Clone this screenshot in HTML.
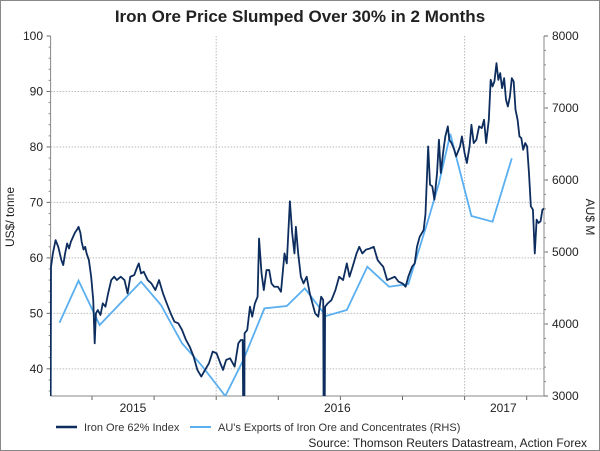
<!DOCTYPE html>
<html><head><meta charset="utf-8"><style>
body{margin:0;background:#fff}
svg{display:block;font-family:"Liberation Sans",sans-serif}
</style></head><body>
<svg id="c" width="600" height="451" viewBox="0 0 600 451">
<rect x="0.5" y="0.5" width="599" height="450" fill="#fff" stroke="#888"/>
<text x="300" y="22" text-anchor="middle" font-size="17" font-weight="bold" fill="#222">Iron Ore Price Slumped Over 30% in 2 Months</text>
<g id="grid"></g>
<g id="axes"></g>
<g id="series"></g>
<text transform="translate(14,217) rotate(-90)" text-anchor="middle" font-size="12" fill="#222">US$/ tonne</text>
<text transform="translate(586,217) rotate(90)" text-anchor="middle" font-size="12" fill="#222">AU$ M</text>
<line x1="56" y1="427" x2="77" y2="427" stroke="#0d2d5e" stroke-width="2.5"/>
<text x="84" y="431" font-size="11" fill="#333">Iron Ore 62% Index</text>
<line x1="190" y1="427" x2="211" y2="427" stroke="#5aaff0" stroke-width="2"/>
<text x="218" y="431" font-size="11" fill="#333">AU's Exports of Iron Ore and Concentrates (RHS)</text>
<text x="587" y="447" text-anchor="end" font-size="12" fill="#222">Source: Thomson Reuters Datastream, Action Forex</text>
</svg>
<script>
const ironMonths=[0,0.02,0.11,0.24,0.37,0.52,0.61,0.70,0.80,0.89,0.98,1.17,1.26,1.35,1.44,1.50,1.59,1.67,1.74,1.85,1.96,2.06,2.13,2.19,2.28,2.41,2.52,2.65,2.78,2.93,3.07,3.20,3.39,3.57,3.72,3.85,4.04,4.19,4.26,4.37,4.50,4.69,4.87,5.06,5.24,5.43,5.61,5.80,5.98,6.17,6.35,6.54,6.72,6.91,7.09,7.28,7.46,7.65,7.83,8.02,8.20,8.33,8.48,8.67,8.89,9.07,9.19,9.28,9.31,9.33,9.36,9.37,9.50,9.63,9.74,9.87,10.0,10.07,10.19,10.30,10.43,10.56,10.67,10.80,10.98,11.13,11.30,11.41,11.56,11.67,11.78,11.85,11.96,12.09,12.22,12.37,12.52,12.65,12.78,12.93,13.07,13.17,13.19,13.21,13.24,13.26,13.39,13.57,13.76,13.94,14.13,14.31,14.44,14.59,14.78,14.91,15.06,15.24,15.43,15.61,15.80,15.93,16.07,16.26,16.44,16.63,16.81,17.0,17.15,17.28,17.46,17.59,17.70,17.83,18.02,18.11,18.24,18.33,18.44,18.54,18.67,18.76,18.85,18.98,19.07,19.19,19.26,19.37,19.50,19.59,19.78,19.87,20.0,20.11,20.24,20.33,20.44,20.57,20.70,20.83,20.94,21.04,21.17,21.26,21.35,21.44,21.54,21.63,21.72,21.81,21.91,22.0,22.09,22.19,22.28,22.37,22.46,22.56,22.65,22.74,22.83,22.93,23.02,23.11,23.20,23.30,23.39,23.48,23.57,23.67,23.76,23.85];
const ironValues=[30,58.4,60.8,63.2,62.0,59.6,58.7,60.8,62.6,61.7,62.9,64.5,65.0,65.6,64.5,62.9,61.5,62.0,60.8,59.6,56.6,52.4,44.6,50.0,50.6,49.7,51.8,51.2,53.6,56.0,56.6,56.0,56.6,56.0,53.6,56.6,56.9,58.4,59.0,57.2,57.5,56.0,55.4,54.2,56.0,53.6,51.8,50.0,48.5,48.2,47.0,45.2,44.0,42.2,39.8,38.6,39.8,41.0,43.1,42.8,41.0,39.8,41.6,41.9,40.4,44.6,45.2,45.2,30,30,30,46.4,47.0,51.2,49.4,51.8,53.0,63.5,57.2,54.2,57.8,57.8,55.4,54.8,54.8,53.9,60.8,59.0,70.2,64.5,60.8,65.6,60.8,56.6,55.4,56.6,53.6,51.8,50.0,49.4,53.0,52.4,30,30,30,51.2,51.8,52.4,54.2,56.6,56.0,59.0,56.6,58.4,60.8,62.0,60.8,61.5,61.7,62.0,59.6,59.0,58.4,56.0,56.3,56.6,55.7,55.4,54.8,56.6,58.4,59.0,62.0,63.8,65.0,67.9,80.1,73.2,72.9,70.5,75.3,81.3,75.3,79.5,81.9,83.7,81.3,80.7,79.5,78.3,80.1,81.9,78.9,77.1,80.1,84.0,80.7,81.3,83.7,83.4,84.9,80.7,84.9,92.1,90.9,91.8,95.1,92.1,93.3,90.6,92.4,88.5,87.3,89.1,92.4,91.8,86.7,84.9,81.9,81.6,79.5,80.7,80.1,75.3,69.3,68.7,60.8,66.9,66.3,66.6,68.7,68.9];
const exportMonths=[0.43,1.35,2.37,4.37,5.33,6.35,7.28,8.44,9.31,10.33,11.41,12.28,13.30,14.31,15.30,16.35,17.28,18.24,18.76,19.31,20.33,21.35,22.28];
const exportValues=[4018,4602,3986,4588,4264,3731,3430,3000,3500,4217,4250,4495,4111,4194,4796,4518,4555,5444,5954,6639,5500,5421,6301];
const leftTicks=[40,50,60,70,80,90,100];
const rightTicks=[3000,4000,5000,6000,7000,8000];
const quarterTicks=[2,5,8,11,14,17,20,23];
const yearLabels=["2015","2016","2017"];
const yearLabelMonths=[3.98,13.85,21.87];
const yearGridMonths=[8,20];

const NS="http://www.w3.org/2000/svg";
const L=50.6,R=544,T=36,B=396;
const xS=m=>L+m*20.7;
const yL=v=>B-(v-35.1)/(100-35.1)*(B-T);
const yR=v=>B-(v-3000)/5000*(B-T);
function mk(tag,attrs,parent,txt){const e=document.createElementNS(NS,tag);for(const k in attrs)e.setAttribute(k,attrs[k]);if(txt!==undefined)e.textContent=txt;document.getElementById(parent).appendChild(e);return e;}
// defs clip
const defs=document.createElementNS(NS,'defs');
defs.innerHTML='<clipPath id="pc"><rect x="50" y="36" width="494" height="360"/></clipPath>';
document.getElementById('c').appendChild(defs);
leftTicks.forEach(v=>{
  if(v<100){const g=mk('line',{x1:L,x2:R,y1:yL(v),y2:yL(v),stroke:'#bbb','stroke-dasharray':'1.5,1.5'},'grid');
  
  }
  const t=mk('text',{x:43,y:yL(v)+4,'text-anchor':'end','font-size':12,fill:'#222'},'axes',v);
  
  
  mk('line',{x1:L-4,x2:L,y1:yL(v),y2:yL(v),stroke:'#666'},'axes');
});
for(let v=36;v<100;v+=2){mk('line',{x1:L-2,x2:L,y1:yL(v),y2:yL(v),stroke:'#888'},'axes');}
rightTicks.forEach(v=>{
  const t=mk('text',{x:552,y:yR(v)+4,'font-size':12,fill:'#222'},'axes',v);
  
  
  mk('line',{x1:R,x2:R+4,y1:yR(v),y2:yR(v),stroke:'#666'},'axes');
});
for(let v=3200;v<8000;v+=200){mk('line',{x1:R,x2:R+2,y1:yR(v),y2:yR(v),stroke:'#888'},'axes');}
yearGridMonths.forEach(m=>{const g=mk('line',{x1:xS(m),x2:xS(m),y1:T,y2:B,stroke:'#bbb','stroke-dasharray':'1.5,1.5'},'grid');
  
  });
quarterTicks.forEach(m=>{mk('line',{x1:xS(m),x2:xS(m),y1:B,y2:B+4,stroke:'#666'},'axes');});
yearLabels.forEach((y,i)=>{const t=mk('text',{x:xS(yearLabelMonths[i]),y:412,'text-anchor':'middle','font-size':12,fill:'#222'},'axes',y);
  
  });
const a1=mk('line',{x1:L,x2:L,y1:T,y2:B,stroke:'#888'},'axes');
const a2=mk('line',{x1:R,x2:R,y1:T,y2:B,stroke:'#888'},'axes');
const a3=mk('line',{x1:L,x2:R,y1:B,y2:B,stroke:'#888'},'axes');



const ep=mk('polyline',{points:exportMonths.map((m,i)=>xS(m)+','+yR(exportValues[i])).join(' '),fill:'none',stroke:'#5aaff0','stroke-width':1.8,'clip-path':'url(#pc)'},'series');


const ip=mk('polyline',{points:ironMonths.map((m,i)=>xS(m)+','+yL(ironValues[i])).join(' '),fill:'none',stroke:'#0d2d5e','stroke-width':1.8,'stroke-linejoin':'round','clip-path':'url(#pc)'},'series');


</script>
</body></html>
